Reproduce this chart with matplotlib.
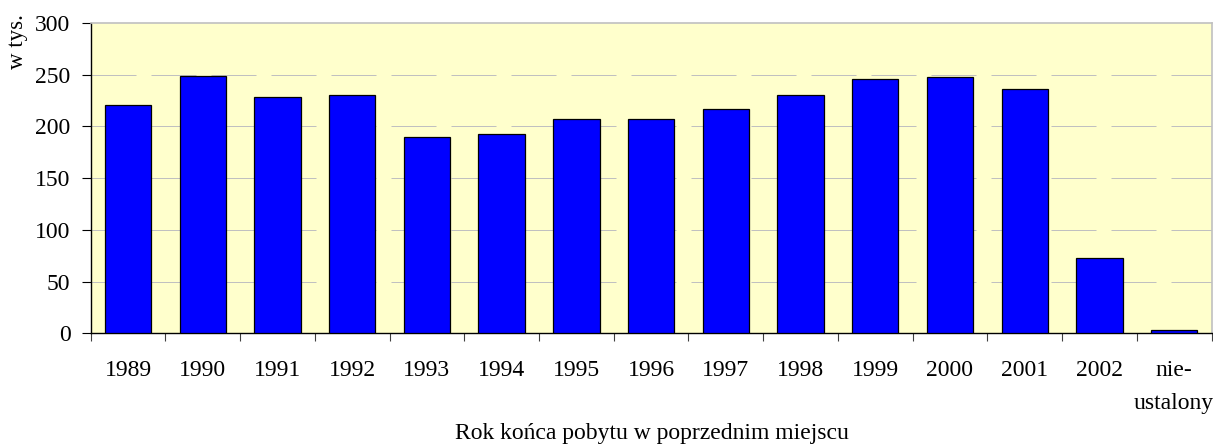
import matplotlib
matplotlib.use("Agg")
import matplotlib.pyplot as plt

categories = ["1989", "1990", "1991", "1992", "1993", "1994", "1995", "1996",
              "1997", "1998", "1999", "2000", "2001", "2002", "nie-\nustalony"]
values = [221, 249, 228, 230, 190, 193, 207, 207, 216.5, 230, 245.5, 247.5, 236, 73, 3.5]
yticks = [0, 50, 100, 150, 200, 250, 300]

plt.rcParams['font.family'] = ['Liberation Serif', 'DejaVu Serif']

W, H = 1213, 446
fig = plt.figure(figsize=(W / 100, H / 100), dpi=100)
fig.patch.set_facecolor('white')
left, right, top, bottom = 90.7, 1211.5, 23, 333.3
ax = fig.add_axes([left / W, 1 - bottom / H, (right - left) / W, (bottom - top) / H])
ax.set_facecolor('#FFFFCC')

x = list(range(len(categories)))
ax.bar(x, values, width=0.62, color='#0000FF', edgecolor='black', linewidth=0.9, zorder=3)

ax.set_xlim(-0.5, len(categories) - 0.5)
ax.set_ylim(0, 300)

# gridlines
for yv in yticks[1:-1]:
    ax.axhline(yv, color='#C0C0C0', linewidth=0.72, dashes=(45, 15), zorder=1)

ax.set_yticks(yticks)
ax.set_yticklabels([str(v) for v in yticks], fontsize=17)
ax.tick_params(axis='y', direction='out', length=6.5, width=0.8, color='black', pad=8)

ax.set_xticks(x)
ax.set_xticklabels(categories, fontsize=17, linespacing=1.8, va='top')
ax.tick_params(axis='x', which='major', length=0, pad=19)
ax.set_xticks([i - 0.5 for i in range(len(categories) + 1)], minor=True)
ax.tick_params(axis='x', which='minor', direction='out', length=6, width=0.8, color='#404040')

for s in ['left', 'bottom']:
    ax.spines[s].set_color('black')
    ax.spines[s].set_linewidth(1.0)
for s in ['top', 'right']:
    ax.spines[s].set_color('#C0C0C0')
    ax.spines[s].set_linewidth(1.2)

fig.text(18 / W, 1 - 42 / H, "w tys.", rotation=90, ha='center', va='center', fontsize=16.5)
fig.text(652 / W, 1 - 433 / H, "Rok końca pobytu w poprzednim miejscu", ha='center', va='center', fontsize=17)

fig.savefig("out.png", dpi=100)
